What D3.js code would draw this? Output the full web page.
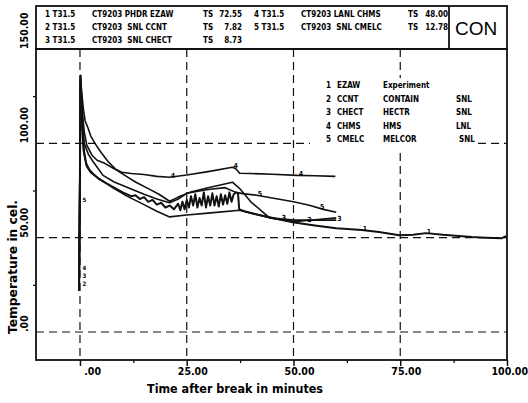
<!DOCTYPE html>
<html>
<head>
<meta charset="utf-8">
<script src="https://cdn.jsdelivr.net/npm/d3@7"></script>
<style>
  body { margin: 0; background: #fff; }
  svg { display: block; }
  .cond { font-family: "DejaVu Sans Condensed", "DejaVu Sans", sans-serif; font-weight: bold; font-stretch: condensed; }
</style>
</head>
<body>
<svg id="chart" width="528" height="403"></svg>
<script>
// ---- data: [time after break (min), temperature (cel.)] ----
const ezaw = [
  [-0.2, 22], [0.15, 136], [0.4, 120], [0.7, 104], [1, 95], [1.5, 89], [2.2, 86], [3, 84],
  [4.5, 81], [6, 79], [8, 76.5], [10, 74], [12, 72], [13, 72.5], [14, 70.5], [15, 71.5],
  [16, 69], [17, 70], [18, 67.5], [19, 68.5], [20, 66], [21, 67], [22, 65], [23, 68],
  [23.5, 64.5], [24, 69], [24.5, 65], [25, 70], [25.5, 66], [26, 72], [26.5, 67], [27, 73],
  [27.5, 66], [28, 71], [28.5, 67], [29, 74], [29.5, 66], [30, 72], [30.5, 67], [31, 73.5],
  [31.5, 67], [32, 72], [32.5, 66.5], [33, 73], [33.5, 67.5], [34, 72.5], [34.5, 68], [35, 74],
  [35.5, 69], [36, 73], [36.5, 74], [37, 73.5], [37.3, 65], [38.5, 64], [42, 62], [46, 60],
  [49.8, 58.2], [55, 56.5], [60, 55], [66, 54], [70, 53], [74.8, 51.3], [78, 51.5], [81, 52.4],
  [85, 51.5], [88, 51], [91.8, 50.3], [95, 50], [98.8, 49.7], [99.8, 50.8]
];
const ccnt = [
  [-0.2, 22], [0.1, 132], [0.4, 110], [0.8, 96], [1.5, 88], [2.5, 84.5], [4, 82], [5.4, 80],
  [8, 76], [11, 72], [15, 67.5], [18, 64], [21, 61], [25, 62], [30, 63], [37.4, 64.5],
  [40, 63], [44.4, 60.5], [50.2, 58.5], [55, 59.5], [60, 60.5]
];
const chect = [
  [-0.2, 22], [0.1, 134], [0.8, 118], [1.2, 112], [1.9, 108], [2.5, 104], [3.5, 100], [5, 95],
  [6.7, 90], [8.5, 86], [10.5, 83], [13, 79.5], [16, 76], [18.5, 73], [21, 69.3], [23, 71.5],
  [25.7, 74], [30, 76.5], [35.7, 79.4], [37.4, 76], [40, 69], [44.4, 60.5], [50.2, 59.3],
  [53.7, 59.3], [60, 59.3]
];
const chms = [
  [-0.2, 22], [0.1, 135], [0.5, 118], [1, 106], [1.6, 99], [2.8, 93.7], [4, 91], [5.8, 89.4],
  [8, 86.5], [9.8, 84.7], [12, 84], [15, 83.5], [18, 82.5], [21, 82], [25, 83.2], [30, 85],
  [35.7, 87.3], [36.5, 86.5], [37.4, 84.1], [40, 84], [45, 83.6], [50.9, 83], [55, 82.8],
  [59.8, 82.5]
];
const cmelc = [
  [-0.2, 22], [0.1, 133], [0.5, 112], [1, 100], [2, 94], [3, 90.5], [5.4, 83], [8, 79.5],
  [11, 76.7], [15, 73], [18, 70.5], [21, 68.5], [23, 70.5], [25, 73.5], [30, 75.5], [34, 76.5],
  [36.5, 74], [38.5, 73.2], [41.4, 72.5], [45, 71], [50, 69], [53.7, 67.2], [57, 65], [60, 63.5]
];
const seriesList = [ezaw, ccnt, chect, chms, cmelc];
const seriesWidths = [2, 1.6, 1.6, 1.6, 1.6];

// small curve number labels: [series number, time]
const curveLabels = [[4, 21], [4, 35.7], [4, 51], [5, 41.4], [5, 56], [3, 60], [2, 53], [1, 66], [1, 81], [3, 47]];
// labels stacked at the start of the curves: [text, time, temperature]
const startLabels = [["5", 0.6, 69], ["4", 0.6, 33], ["3", 0.6, 28.6], ["2", 0.6, 24.5]];

const xTicks = [0, 25, 50, 75, 100];
const xTickLabels = [".00", "25.00", "50.00", "75.00", "100.00"];
const xMinor = [12.5, 37.5, 62.5, 87.5];
const yTicks = [0, 50, 100, 150];
const yTickLabels = [".00", "50.00", "100.00", "150.00"];
const yMinor = [25, 75, 125];
const xGrid = [0, 25, 50, 75];
const yGrid = [0, 50, 100];

// header table
const headIds = ["1 T31.5", "2 T31.5", "3 T31.5", "4 T31.5", "5 T31.5"];
const headRuns = ["CT9203 PHDR EZAW", "CT9203  SNL CCNT", "CT9203  SNL CHECT", "CT9203 LANL CHMS", "CT9203  SNL CMELC"];
const headTs = ["72.55", "7.82", "8.73", "48.00", "12.78"];

// legend
const legNums = ["1", "2", "3", "4", "5"];
const legCodes = ["EZAW", "CCNT", "CHECT", "CHMS", "CMELC"];
const legModels = ["Experiment", "CONTAIN", "HECTR", "HMS", "MELCOR"];
const legLabs = ["", "SNL", "SNL", "LNL", "SNL"];

// ---- layout ----
const svg = d3.select('#chart');
const plotLeft = 36, plotRight = 507, plotTop = 49, plotBottom = 360;

const x = d3.scaleLinear().domain([-10.3, 100]).range([plotLeft, plotRight]);
const y = d3.scaleLinear().domain([-14.85, 150]).range([plotBottom, plotTop]);

// dashed grid
const grid = svg.append('g')
  .attr('stroke', '#111')
  .attr('stroke-width', 1.2)
  .attr('stroke-dasharray', '8,5');
grid.selectAll('.gx').data(xGrid).enter().append('line')
  .attr('x1', d => x(d)).attr('x2', d => x(d))
  .attr('y1', plotTop).attr('y2', plotBottom);
grid.selectAll('.gy').data(yGrid).enter().append('line')
  .attr('x1', plotLeft).attr('x2', plotRight)
  .attr('y1', d => y(d)).attr('y2', d => y(d));

// legend background masks the grid
svg.append('rect')
  .attr('x', 310).attr('y', 78).attr('width', 168).attr('height', 70)
  .attr('fill', '#fff');

// curves
const line = d3.line().x(d => x(d[0])).y(d => y(d[1]));
svg.append('g').selectAll('path')
  .data(seriesList).enter().append('path')
  .attr('d', line)
  .attr('fill', 'none')
  .attr('stroke', '#111')
  .attr('stroke-width', (d, i) => seriesWidths[i])
  .attr('stroke-linejoin', 'round');

// curve labels
function valueAt(data, t) {
  for (let i = 1; i < data.length; i++) {
    if (data[i][0] >= t) {
      const a = data[i - 1], b = data[i];
      return a[1] + (b[1] - a[1]) * (t - a[0]) / (b[0] - a[0]);
    }
  }
  return data[data.length - 1][1];
}
svg.append('g').attr('class', 'cond').attr('font-size', 7)
  .selectAll('text').data(curveLabels).enter().append('text')
  .attr('x', d => x(d[1]) + 1)
  .attr('y', d => y(valueAt(seriesList[d[0] - 1], d[1])) + 1)
  .text(d => d[0]);
svg.append('g').attr('class', 'cond').attr('font-size', 6)
  .selectAll('text').data(startLabels).enter().append('text')
  .attr('x', d => x(d[1]))
  .attr('y', d => y(d[2]))
  .text(d => d[0]);

// frame
svg.append('rect')
  .attr('x', plotLeft).attr('y', plotTop)
  .attr('width', plotRight - plotLeft).attr('height', plotBottom - plotTop)
  .attr('fill', 'none').attr('stroke', '#111').attr('stroke-width', 1.8);

// axes ticks
const xAxis = d3.axisBottom(x).tickValues(xTicks).tickSize(6).tickFormat('');
svg.append('g').attr('transform', `translate(0,${plotBottom})`).call(xAxis)
  .call(g => g.select('.domain').remove())
  .call(g => g.selectAll('line').attr('stroke', '#111').attr('stroke-width', 1.5));
svg.append('g').attr('transform', `translate(0,${plotBottom})`)
  .call(d3.axisBottom(x).tickValues(xMinor).tickSize(3).tickFormat(''))
  .call(g => g.select('.domain').remove())
  .call(g => g.selectAll('line').attr('stroke', '#111').attr('stroke-width', 1.3));
svg.append('g').attr('transform', `translate(${plotLeft},0)`)
  .call(d3.axisLeft(y).tickValues(yMinor).tickSize(3).tickFormat(''))
  .call(g => g.select('.domain').remove())
  .call(g => g.selectAll('line').attr('stroke', '#111').attr('stroke-width', 1.3));

// tick labels
svg.append('g').attr('class', 'cond').attr('font-size', 10.5)
  .selectAll('text').data(xTicks).enter().append('text')
  .attr('x', d => x(d) + 21)
  .attr('y', 375)
  .attr('text-anchor', 'end')
  .text((d, i) => xTickLabels[i]);
svg.append('g').attr('class', 'cond').attr('font-size', 10.5)
  .selectAll('text').data(yTicks).enter().append('text')
  .attr('transform', d => `translate(28,${y(d)}) rotate(-90)`)
  .text((d, i) => yTickLabels[i]);

// axis titles
svg.append('text')
  .attr('x', 147).attr('y', 393)
  .attr('textLength', 176).attr('lengthAdjust', 'spacingAndGlyphs')
  .attr('font-family', 'DejaVu Sans, sans-serif').attr('font-size', 12.5)
  .attr('font-weight', 'bold')
  .text('Time after break in minutes');
svg.append('text')
  .attr('transform', 'translate(17,334) rotate(-90)')
  .attr('textLength', 134).attr('lengthAdjust', 'spacingAndGlyphs')
  .attr('font-family', 'DejaVu Sans, sans-serif').attr('font-size', 12.5)
  .attr('font-weight', 'bold')
  .text('Temperature in cel.');

// header box
const head = svg.append('g');
head.append('rect')
  .attr('x', plotLeft).attr('y', 6).attr('width', plotRight - plotLeft).attr('height', plotTop - 6)
  .attr('fill', 'none').attr('stroke', '#111').attr('stroke-width', 1.8);
head.append('line')
  .attr('x1', 449).attr('x2', 449).attr('y1', 6).attr('y2', plotTop)
  .attr('stroke', '#111').attr('stroke-width', 1.8);
head.append('text')
  .attr('x', 455).attr('y', 35)
  .attr('font-family', 'Liberation Sans, Arial, sans-serif').attr('font-size', 19)
  .text('CON');

const headRows = headIds.map((id, i) => ({ id, run: headRuns[i], ts: headTs[i], col: i < 3 ? 0 : 1, row: i < 3 ? i : i - 3 }));
const cols = [{ id: 45, run: 92, ts: 203, val: 242 }, { id: 254, run: 301, ts: 408, val: 448 }];
const hr = head.append('g').attr('class', 'cond').attr('font-size', 8)
  .selectAll('g').data(headRows).enter().append('g')
  .attr('transform', d => `translate(0,${17 + d.row * 13})`);
hr.append('text').attr('x', d => cols[d.col].id).text(d => d.id);
hr.append('text').attr('x', d => cols[d.col].run).style('white-space', 'pre').text(d => d.run);
hr.append('text').attr('x', d => cols[d.col].ts).text('TS');
hr.append('text').attr('x', d => cols[d.col].val).attr('text-anchor', 'end').text(d => d.ts);

// legend
const lg = svg.append('g').attr('class', 'cond').attr('font-size', 8)
  .selectAll('g').data(legNums).enter().append('g')
  .attr('transform', (d, i) => `translate(0,${88 + i * 13.5})`);
lg.append('text').attr('x', 326).text(d => d);
lg.append('text').attr('x', 337).text((d, i) => legCodes[i]);
lg.append('text').attr('x', 383).text((d, i) => legModels[i]);
lg.append('text').attr('x', (d, i) => i === 4 ? 459 : 456).text((d, i) => legLabs[i]);
</script>
</body>
</html>
